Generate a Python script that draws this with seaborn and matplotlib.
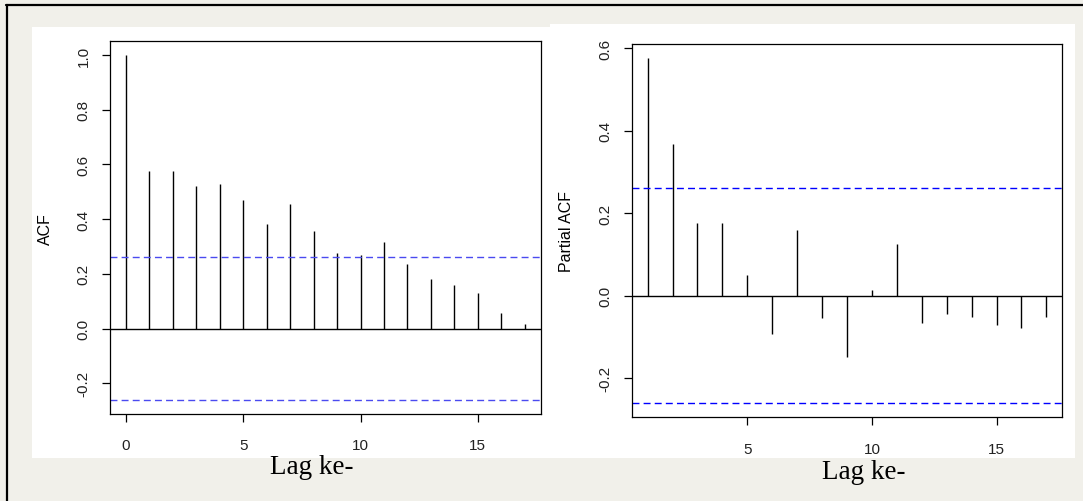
import numpy as np
import matplotlib
matplotlib.use("Agg")
import matplotlib.pyplot as plt
from matplotlib.patches import Rectangle
from matplotlib.lines import Line2D
import seaborn as sns

# ---- data ----
acf_lags = list(range(0, 18))
acf_vals = [1.000, 0.577, 0.577, 0.522, 0.529, 0.471, 0.382, 0.457, 0.356,
            0.276, 0.269, 0.316, 0.236, 0.182, 0.161, 0.131, 0.058, 0.018]
pacf_lags = list(range(1, 18))
pacf_vals = [0.577, 0.367, 0.175, 0.177, 0.049, -0.093, 0.160, -0.054, -0.150,
             0.013, 0.126, -0.067, -0.045, -0.052, -0.071, -0.079, -0.052]
ci = 0.262
acf_xticks = [0, 5, 10, 15]
acf_yticks = [-0.2, 0.0, 0.2, 0.4, 0.6, 0.8, 1.0]
pacf_xticks = [5, 10, 15]
pacf_yticks = [-0.2, 0.0, 0.2, 0.4, 0.6]
xlabel = "Lag ke-"

sns.set_theme(style="white")
plt.rcParams['font.family'] = ['Liberation Sans', 'DejaVu Sans']

W, H = 1083, 502
fig = plt.figure(figsize=(W / 100, H / 100), dpi=100)
fig.patch.set_facecolor('#f1f0ea')

def px_rect(x0, y0, x1, y1):
    return [x0 / W, 1 - y1 / H, (x1 - x0) / W, (y1 - y0) / H]

# white panels
for (x0, y0, x1, y1) in [(32, 28, 550, 459), (550, 25, 1075, 459)]:
    r = px_rect(x0, y0, x1, y1)
    fig.add_artist(Rectangle((r[0], r[1]), r[2], r[3], transform=fig.transFigure,
                             facecolor='white', edgecolor='none', zorder=-10))
# frame lines (top and left)
fig.add_artist(Line2D([6 / W, 1], [1 - 6 / H, 1 - 6 / H], transform=fig.transFigure,
                      color='black', lw=1.6))
fig.add_artist(Line2D([6.5 / W, 6.5 / W], [0, 1 - 6 / H], transform=fig.transFigure,
                      color='black', lw=1.6))

def stem_panel(ax, lags, vals, xlim, ylim, xticks, yticks, ylabel, dash_color, ypos, xpad):
    ax.set_facecolor('white')
    ax.vlines(lags, 0, vals, color='black', lw=1.0)
    ax.axhline(0, color='black', lw=1.0)
    ax.axhline(ci, color=dash_color, lw=1.0, ls=(0, (5, 3)))
    ax.axhline(-ci, color=dash_color, lw=1.0, ls=(0, (5, 3)))
    ax.set_xlim(*xlim)
    ax.set_ylim(*ylim)
    ax.set_xticks(xticks)
    ax.set_xticklabels([str(t) for t in xticks])
    ax.set_yticks(yticks)
    ax.set_yticklabels([f"{t:.1f}" for t in yticks], rotation=90, va='center')
    ax.tick_params(axis='both', which='both', direction='out', length=5.5, width=0.9,
                   color='black', labelsize=11, labelcolor='#222222', left=True, bottom=True)
    ax.tick_params(axis='x', pad=xpad)
    ax.tick_params(axis='y', pad=8.5)
    ax.set_ylabel(ylabel, fontsize=11.5, color='black')
    ax.yaxis.set_label_coords(ypos, 0.5)
    ax.yaxis.label.set_va('center')
    for s in ax.spines.values():
        s.set_visible(True)
        s.set_color('black')
        s.set_linewidth(0.9)
    ax.grid(False)

ax1 = fig.add_axes(px_rect(110, 42.3, 540.7, 415))
stem_panel(ax1, acf_lags, acf_vals, (-0.68, 17.68), (-0.3125, 1.0505),
           acf_xticks, acf_yticks, "ACF", '#4a4af0', (45 - 110) / 430.7, 11.5)

ax2 = fig.add_axes(px_rect(631.7, 45, 1062.3, 418.3))
stem_panel(ax2, pacf_lags, pacf_vals, (0.36, 17.64), (-0.2956, 0.6106),
           pacf_xticks, pacf_yticks, "Partial ACF", 'blue', (566.7 - 631.7) / 430.6, 12)

for xc, yb in ((312, 474), (864, 479)):
    fig.text(xc / W, 1 - yb / H, xlabel, ha='center', va='baseline',
             fontsize=19.5, family=['Liberation Serif', 'DejaVu Serif'], color='black')

fig.savefig("out.png", dpi=100, facecolor=fig.get_facecolor())
